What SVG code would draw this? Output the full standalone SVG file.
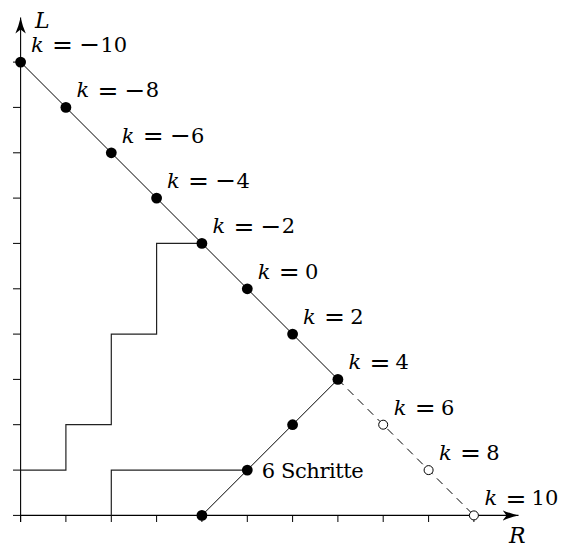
<svg xmlns="http://www.w3.org/2000/svg" width="563" height="547" viewBox="0 0 563 547">
<defs>
<style>
.ax{stroke:#000;stroke-width:1.1;fill:none}
.tk{stroke:#000;stroke-width:1;fill:none}
.ln{stroke:#000;stroke-width:1;fill:none}
.st{stroke:#222;stroke-width:1.2;fill:none}
.ds{stroke:#000;stroke-width:1;fill:none;stroke-dasharray:8 6}
.dot{fill:#000}
.odot{fill:#fff;stroke:#000;stroke-width:1}
.lbl{font-family:'DejaVu Serif','Liberation Serif',serif;font-size:21px;fill:#000}
.ax-l{font-family:'DejaVu Serif','Liberation Serif',serif;font-size:22px;font-style:italic;fill:#000}
.i{font-style:italic}
.op{font-size:25px}
</style>
<marker id="arr" markerUnits="userSpaceOnUse" markerWidth="17" markerHeight="12" viewBox="0 0 17 12" refX="16" refY="6" orient="auto">
<path d="M16,6 Q8,4.2 0,0.8 L4,6 L0,11.2 Q8,7.8 16,6 Z" fill="#000"/>
</marker>
</defs>
<rect width="563" height="547" fill="#fff"/>
<g id="axes">
<line class="ax" x1="20.6" y1="522" x2="20.6" y2="17.5" marker-end="url(#arr)"/>
<line class="ax" x1="20.6" y1="515.4" x2="518.5" y2="515.4" marker-end="url(#arr)"/>
<path class="tk" d="M20.6,515.4V522M65.9,515.4V522M111.3,515.4V522M156.6,515.4V522M201.9,515.4V522M247.3,515.4V522M292.6,515.4V522M337.9,515.4V522M383.2,515.4V522M428.6,515.4V522M473.9,515.4V522"/>
<path class="tk" d="M13,515.4H20.6M13,470.1H20.6M13,424.7H20.6M13,379.4H20.6M13,334.1H20.6M13,288.8H20.6M13,243.4H20.6M13,198.1H20.6M13,152.8H20.6M13,107.4H20.6M13,62.1H20.6"/>
<text class="ax-l" x="35" y="28.3">L</text>
<text class="ax-l" x="509" y="543">R</text>
</g>
<g id="connectors">
<line class="ln" x1="20.6" y1="62.1" x2="337.9" y2="379.4"/>
<line class="ds" x1="337.9" y1="379.4" x2="473.9" y2="515.4"/>
<line class="ln" x1="201.9" y1="515.4" x2="337.9" y2="379.4"/>
<path class="st" d="M20.6,470.1H65.9V424.7H111.3V334.1H156.6V243.4H201.9"/>
<path class="st" d="M111.3,515.4V470.1H247.3"/>
</g>
<g id="nodes">
<g id="k-10"><circle class="dot" cx="20.6" cy="62.1" r="5.4"/><text class="lbl" y="52.1"><tspan class="i" x="31.1">k</tspan> <tspan class="op" x="52.1" dy="1.2">=</tspan> <tspan class="op" x="79.3">−</tspan><tspan x="100.4" dy="-1.2">10</tspan></text></g>
<g id="k-8"><circle class="dot" cx="65.9" cy="107.4" r="5.4"/><text class="lbl" y="97.4"><tspan class="i" x="76.4">k</tspan> <tspan class="op" x="97.4" dy="1.2">=</tspan> <tspan class="op" x="124.6">−</tspan><tspan x="145.7" dy="-1.2">8</tspan></text></g>
<g id="k-6"><circle class="dot" cx="111.3" cy="152.8" r="5.4"/><text class="lbl" y="142.8"><tspan class="i" x="121.8">k</tspan> <tspan class="op" x="142.8" dy="1.2">=</tspan> <tspan class="op" x="170">−</tspan><tspan x="191.1" dy="-1.2">6</tspan></text></g>
<g id="k-4"><circle class="dot" cx="156.6" cy="198.1" r="5.4"/><text class="lbl" y="188.1"><tspan class="i" x="167.1">k</tspan> <tspan class="op" x="188.1" dy="1.2">=</tspan> <tspan class="op" x="215.3">−</tspan><tspan x="236.4" dy="-1.2">4</tspan></text></g>
<g id="k-2"><circle class="dot" cx="201.9" cy="243.4" r="5.4"/><text class="lbl" y="233.4"><tspan class="i" x="212.4">k</tspan> <tspan class="op" x="233.4" dy="1.2">=</tspan> <tspan class="op" x="260.6">−</tspan><tspan x="281.7" dy="-1.2">2</tspan></text></g>
<g id="k0"><circle class="dot" cx="247.3" cy="288.8" r="5.4"/><text class="lbl" y="278.8"><tspan class="i" x="257.8">k</tspan> <tspan class="op" x="278.8" dy="1.2">=</tspan> <tspan x="305" dy="-1.2">0</tspan></text></g>
<g id="k2"><circle class="dot" cx="292.6" cy="334.1" r="5.4"/><text class="lbl" y="324.1"><tspan class="i" x="303.1">k</tspan> <tspan class="op" x="324.1" dy="1.2">=</tspan> <tspan x="350.3" dy="-1.2">2</tspan></text></g>
<g id="k4"><circle class="dot" cx="337.9" cy="379.4" r="5.4"/><text class="lbl" y="369.4"><tspan class="i" x="348.4">k</tspan> <tspan class="op" x="369.4" dy="1.2">=</tspan> <tspan x="395.6" dy="-1.2">4</tspan></text></g>
<g id="k6"><circle class="odot" cx="383.2" cy="424.7" r="4.5"/><text class="lbl" y="414.7"><tspan class="i" x="393.7">k</tspan> <tspan class="op" x="414.7" dy="1.2">=</tspan> <tspan x="440.9" dy="-1.2">6</tspan></text></g>
<g id="k8"><circle class="odot" cx="428.6" cy="470.1" r="4.5"/><text class="lbl" y="460.1"><tspan class="i" x="439.1">k</tspan> <tspan class="op" x="460.1" dy="1.2">=</tspan> <tspan x="486.3" dy="-1.2">8</tspan></text></g>
<g id="k10"><circle class="odot" cx="473.9" cy="515.4" r="4.5"/><text class="lbl" y="505.4"><tspan class="i" x="484.4">k</tspan> <tspan class="op" x="505.4" dy="1.2">=</tspan> <tspan x="531.6" dy="-1.2">10</tspan></text></g>
<g id="p-start"><circle class="dot" cx="201.9" cy="515.4" r="5.4"/></g>
<g id="p-steps"><circle class="dot" cx="247.3" cy="470.1" r="5.4"/><text class="lbl" x="261.8" y="477.6" textLength="102" lengthAdjust="spacing">6 Schritte</text></g>
<g id="p-mid"><circle class="dot" cx="292.6" cy="424.7" r="5.4"/></g>
</g>
</svg>
